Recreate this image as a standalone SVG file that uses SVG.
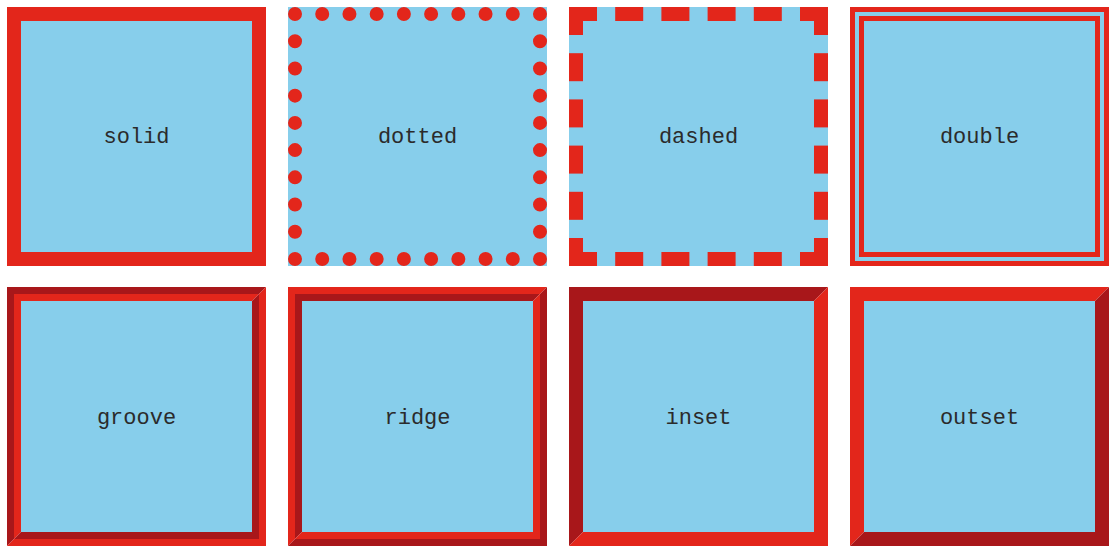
<svg xmlns="http://www.w3.org/2000/svg" xmlns:xlink="http://www.w3.org/1999/xlink" width="1113" height="547" viewBox="0 0 1113 547">
<style>
.bg{fill:#87CEEB}
.r{fill:#E3261B}
.d{fill:#A8171A}
.lbl{font-family:"Liberation Mono","Courier New",monospace;font-size:22px;fill:#2b2b2b;text-anchor:middle}
.dash{fill:#E3261B}
</style>
<defs>
<path id="oTL" d="M0,0 H259 L252,7 H7 V252 L0,259 Z"/>
<path id="oBR" d="M259,0 V259 H0 L7,252 H252 V7 Z"/>
<path id="iTL" d="M7,7 H252 L245,14 H14 V245 L7,252 Z"/>
<path id="iBR" d="M252,7 V252 H7 L14,245 H245 V14 Z"/>
<path id="fTL" d="M0,0 H259 L245,14 H14 V245 L0,259 Z"/>
<path id="fBR" d="M259,0 V259 H0 L14,245 H245 V14 Z"/>
<rect id="inner" x="14" y="14" width="231" height="231"/>
</defs>
<rect width="1113" height="547" fill="#ffffff"/>

<g id="solid">
<rect x="7" y="7" width="259" height="259" class="r"/>
<rect x="21" y="21" width="231" height="231" class="bg"/>
<text x="136.5" y="143" class="lbl">solid</text>
</g>

<g id="dotted">
<rect x="288" y="7" width="259" height="259" class="bg"/>
<rect x="295" y="14" width="245" height="245" fill="none" stroke="#E3261B" stroke-width="14" stroke-linecap="round" stroke-dasharray="0 27.222"/>
<text x="417.5" y="143" class="lbl">dotted</text>
</g>

<g id="dashed">
<rect x="569" y="7" width="259" height="259" class="bg"/>
<g class="dash">
<rect x="569" y="7" width="28" height="14"/>
<rect x="615.2" y="7" width="28" height="14"/>
<rect x="661.4" y="7" width="28" height="14"/>
<rect x="707.6" y="7" width="28" height="14"/>
<rect x="753.8" y="7" width="28" height="14"/>
<rect x="800" y="7" width="28" height="14"/>
<rect x="569" y="252" width="28" height="14"/>
<rect x="615.2" y="252" width="28" height="14"/>
<rect x="661.4" y="252" width="28" height="14"/>
<rect x="707.6" y="252" width="28" height="14"/>
<rect x="753.8" y="252" width="28" height="14"/>
<rect x="800" y="252" width="28" height="14"/>
<rect x="569" y="7" width="14" height="28"/>
<rect x="569" y="53.2" width="14" height="28"/>
<rect x="569" y="99.4" width="14" height="28"/>
<rect x="569" y="145.6" width="14" height="28"/>
<rect x="569" y="191.8" width="14" height="28"/>
<rect x="569" y="238" width="14" height="28"/>
<rect x="814" y="7" width="14" height="28"/>
<rect x="814" y="53.2" width="14" height="28"/>
<rect x="814" y="99.4" width="14" height="28"/>
<rect x="814" y="145.6" width="14" height="28"/>
<rect x="814" y="191.8" width="14" height="28"/>
<rect x="814" y="238" width="14" height="28"/>
</g>
<text x="698.5" y="143" class="lbl">dashed</text>
</g>

<g id="double">
<rect x="850" y="7" width="259" height="259" class="bg"/>
<rect x="852.5" y="9.5" width="254" height="254" fill="none" stroke="#E3261B" stroke-width="5"/>
<rect x="861.5" y="18.5" width="236" height="236" fill="none" stroke="#E3261B" stroke-width="5"/>
<text x="979.5" y="143" class="lbl">double</text>
</g>

<g id="groove" transform="translate(7,287)">
<use xlink:href="#inner" class="bg"/>
<use xlink:href="#oTL" class="d"/>
<use xlink:href="#oBR" class="r"/>
<use xlink:href="#iTL" class="r"/>
<use xlink:href="#iBR" class="d"/>
<text x="129.5" y="137" class="lbl">groove</text>
</g>

<g id="ridge" transform="translate(288,287)">
<use xlink:href="#inner" class="bg"/>
<use xlink:href="#oTL" class="r"/>
<use xlink:href="#oBR" class="d"/>
<use xlink:href="#iTL" class="d"/>
<use xlink:href="#iBR" class="r"/>
<text x="129.5" y="137" class="lbl">ridge</text>
</g>

<g id="inset" transform="translate(569,287)">
<use xlink:href="#inner" class="bg"/>
<use xlink:href="#fTL" class="d"/>
<use xlink:href="#fBR" class="r"/>
<text x="129.5" y="137" class="lbl">inset</text>
</g>

<g id="outset" transform="translate(850,287)">
<use xlink:href="#inner" class="bg"/>
<use xlink:href="#fTL" class="r"/>
<use xlink:href="#fBR" class="d"/>
<text x="129.5" y="137" class="lbl">outset</text>
</g>

<g id="connectors"/>
</svg>
